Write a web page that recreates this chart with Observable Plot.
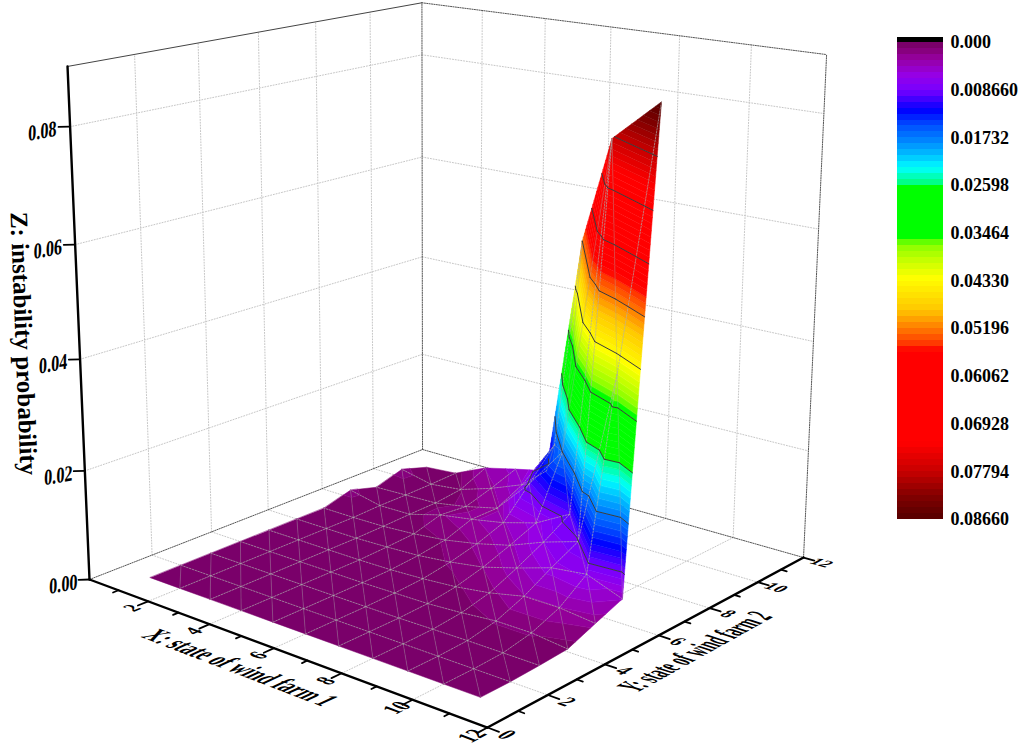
<!DOCTYPE html>
<html>
<head>
<meta charset="utf-8">
<script src="https://cdn.jsdelivr.net/npm/d3@7"></script>
<script src="https://cdn.jsdelivr.net/npm/@observablehq/plot@0.6"></script>
<style>html,body{margin:0;padding:0;background:#fff}svg{display:block}</style>
</head>
<body>
<div id="chart"></div>
<script>
// ---- data ----
const xStates = [1,2,3,4,5,6,7,8,9,10,11];
const yStates = [1,2,3,4,5,6,7,8,9,10,11];
// instability probability, one row per Y state, one column per X state
const zY1  = [0,0,0,0,0,0,0,0,0,0,0];
const zY2  = [0,0,0,0,0,0,0,0,0,0,0];
const zY3  = [0,0,0,0,0,0,0,0.0001,0.0002,0.0002,0.0002];
const zY4  = [0,0,0,0,0,0.0001,0.0002,0.0006,0.0012,0.0012,0.0005];
const zY5  = [0,0,0,0,0.0001,0.0004,0.0009,0.0018,0.0032,0.0032,0.0025];
const zY6  = [0,0,0,0.0002,0.0005,0.0012,0.0022,0.0040,0.0060,0.0068,0.0044];
const zY7  = [0,0,0.0001,0.0005,0.0012,0.0024,0.0040,0.0065,0.0085,0.0400,0.0866];
const zY8  = [0.0015,0.0002,0.0003,0.0020,0.0030,0.0042,0.0060,0.0095,0.0775,null,null];
const zY9  = [0,0.0002,0.0004,0.0015,0.0030,0.0095,0.0173,null,null,null,null];
const zY10 = [0.0016,0.0003,0.0010,0.0030,0.0055,0.0150,null,null,null,null,null];
const zY11 = [0,0.0005,0.0033,0.0048,0.0062,0.0520,null,null,null,null,null];
const zRows = [zY1,zY2,zY3,zY4,zY5,zY6,zY7,zY8,zY9,zY10,zY11];
// triangles of the mesh along its cut edge, as [X,Y] nodes
const seamTriangles = [
  [[6,10],[7,9],[6,11]],
  [[6,11],[7,9],[9,8]],
  [[7,9],[8,8],[9,8]],
  [[10,7],[11,7],[9,8]]
];
const xTicks = [2,4,6,8,10,12];
const yTicks = [0,2,4,6,8,10,12];
const xMinor = [1,3,5,7,9,11];
const yMinor = [1,3,5,7,9,11];
const zTicks = [0,0.02,0.04,0.06,0.08];
const zTickLabels = ["0.00","0.02","0.04","0.06","0.08"];
const axisMax = [12,12,0.09];
const xTitle = "X: state of wind farm 1";
const yTitle = "Y: state of wind farm 2";
const zTitle = "Z: instability probability";
const barValues = [0,0.00866,0.01732,0.02598,0.03464,0.0433,0.05196,0.06062,0.06928,0.07794,0.0866];
const barLabels = ["0.000","0.008660","0.01732","0.02598","0.03464","0.04330","0.05196","0.06062","0.06928","0.07794","0.08660"];
const colorStops = [0,0.001,0.003,0.006,0.0087,0.0123,0.015,0.0178,0.0205,0.0229,0.0256,0.0265,0.0355,0.0365,0.0392,0.0428,0.0486,0.0517,0.0546,0.056,0.0728,0.078,0.0824,0.0866];
const colorRange = ["#730064","#80006f","#9600a0","#9600e6","#7800ff","#0000ff","#004bff","#0082ff","#00beff","#00ffff","#00ff82","#00ff00","#00ff00","#82ff00","#beff00","#ffff00","#ffc800","#ff8200","#ff3c00","#ff0000","#ff0000","#c80000","#820000","#550000"];
const levelCount = 80;
const contourEvery = 0.00866;

// ---- view ----
const W = 1024, H = 753;
const camU = [332,399.3,-26,89], camV = [49.5,-59.5,-517,579], camW = [-0.1355,0.157,-0.06,1];
const fracs = ([X,Y,Z]) => [X/axisMax[0],Y/axisMax[1],Z/axisMax[2],1];
const dot = (a,b) => a[0]*b[0]+a[1]*b[1]+a[2]*b[2]+a[3]*b[3];
const depth = p => dot(camW,fracs(p));
const proj = p => {const f=fracs(p),w=dot(camW,f);return [dot(camU,f)/w,dot(camV,f)/w];};
const bar = {left:897,right:943,top:42,bottom:519,capTop:37,labelX:950};
const barY = z => bar.top+z/barValues[barValues.length-1]*(bar.bottom-bar.top);

// ---- mesh ----
const zAt = (X,Y) => {const r=zRows[Y-1];if(!r)return null;const v=r[X-1];return v===undefined?null:v;};
const node = ([X,Y]) => [X,Y,zAt(X,Y)];
let triangles = [];
for (const Y of yStates.slice(0,-1)) for (const X of xStates.slice(0,-1)) {
  const a=[X,Y],b=[X+1,Y],c=[X,Y+1],d=[X+1,Y+1];
  if ([a,b,c].every(n=>zAt(...n)!==null)) triangles.push([a,b,c]);
  if ([b,d,c].every(n=>zAt(...n)!==null)) triangles.push([b,d,c]);
}
triangles = triangles.concat(seamTriangles);
const tris3 = triangles.map(t=>t.map(node));
tris3.sort((p,q)=>d3.sum(q,depth)-d3.sum(p,depth));

const clip = (poly,level,keepAbove) => {
  const out=[];
  poly.forEach((a,i)=>{
    const b=poly[(i+1)%poly.length];
    const ina=keepAbove?a[2]>=level:a[2]<=level, inb=keepAbove?b[2]>=level:b[2]<=level;
    if(ina) out.push(a);
    if(ina!==inb){const t=(level-a[2])/(b[2]-a[2]);out.push([a[0]+t*(b[0]-a[0]),a[1]+t*(b[1]-a[1]),level]);}
  });
  return out;
};
const zFull = barValues[barValues.length-1];
const step = zFull/levelCount;
const bands=[]; let bandId=0;
for (const tri of tris3) {
  for (let k=0;k<levelCount;k++){
    let poly=clip(tri,k*step,true);
    if(poly.length<3) continue;
    poly=clip(poly,(k+1)*step,false);
    if(poly.length<3) continue;
    bandId++;
    for(const p of poly){const [u,v]=proj(p);bands.push({id:bandId,u,v,c:(k+0.5)*step});}
  }
}
// contour lines
const contourRows=[]; let contourId=0;
for(let m=1;m<=9;m++){
  const level=m*contourEvery+1e-7;
  for(const tri of tris3){
    const pts=[];
    tri.forEach((a,i)=>{const b=tri[(i+1)%3];
      if((a[2]-level)*(b[2]-level)<0){const t=(level-a[2])/(b[2]-a[2]);pts.push([a[0]+t*(b[0]-a[0]),a[1]+t*(b[1]-a[1]),level]);}
    });
    if(pts.length===2){contourId++;for(const p of pts){const [u,v]=proj(p);contourRows.push({id:contourId,u,v});}}
  }
}
// mesh edges (interior only)
const edgeUse=new Map();
for(const t of triangles) t.forEach((a,i)=>{
  const b=t[(i+1)%3];const key=[a,b].map(String).sort().join("|");
  if(!edgeUse.has(key))edgeUse.set(key,{a,b,n:0});edgeUse.get(key).n++;
});
const meshGrid=[],meshDiag=[];let meshId=0;
for(const {a,b,n} of edgeUse.values()){
  if(n<2)continue;
  const straight=a[0]===b[0]||a[1]===b[1];
  const target=straight?meshGrid:meshDiag;meshId++;
  for(const q of [a,b]){const [u,v]=proj(node(q));target.push({id:meshId,u,v});}
}

// ---- box ----
const [xM,yM,zM]=axisMax;
const rowsOf=segs=>segs.flatMap((s,i)=>s.map(p=>{const [u,v]=proj(p);return {id:i,u,v};}));
const evens=xTicks.filter(v=>v<xM), evensY=yTicks.filter(v=>v>0&&v<yM), zs=zTicks.filter(v=>v>0);
const gridRows=rowsOf([
  ...evens.map(X=>[[X,0,0],[X,yM,0]]),
  ...evensY.map(Y=>[[0,Y,0],[xM,Y,0]]),
  ...evensY.map(Y=>[[0,Y,0],[0,Y,zM]]),
  ...evens.map(X=>[[X,yM,0],[X,yM,zM]]),
  ...zs.map(Z=>[[0,0,Z],[0,yM,Z]]),
  ...zs.map(Z=>[[0,yM,Z],[xM,yM,Z]])
]);
const edgeRows=rowsOf([
  [[0,0,0],[0,yM,0]],[[0,yM,0],[xM,yM,0]],[[0,yM,0],[0,yM,zM]],[[xM,yM,0],[xM,yM,zM]],[[0,yM,zM],[xM,yM,zM]]
]);
const topRows=rowsOf([[[0,0,zM],[0,yM,zM]]]);
const axisRows=rowsOf([[[0,0,0],[xM,0,0]],[[xM,0,0],[xM,yM,0]],[[0,0,0],[0,0,zM]]]);
const tickRows=rowsOf([
  ...xTicks.map(X=>[[X,0,0],[X,-0.32,0]]),
  ...xMinor.map(X=>[[X,0,0],[X,-0.17,0]]),
  ...yTicks.map(Y=>[[xM,Y,0],[xM+0.3,Y,0]]),
  ...yMinor.map(Y=>[[xM,Y,0],[xM+0.16,Y,0]]),
  ...zTicks.map(Z=>[[0,0,Z],[-0.18,-0.18,Z]])
]);

// ---- planar text ----
const basis=(p,along,down,ka,kd)=>{
  const o=proj(p),pa=proj(p.map((v,i)=>v+along[i])),pd=proj(p.map((v,i)=>v+down[i]));
  return [(pa[0]-o[0])*ka,(pa[1]-o[1])*ka,(pd[0]-o[0])*kd,(pd[1]-o[1])*kd];
};
const placed=[];
const xTickRows=xTicks.map(X=>{const p=[X,-0.5,0],[u,v]=proj(p);return {u,v,t:String(X),m:basis(p,[0,1,0],[1,0,0],0.034,0.038)};});
const yTickRows=yTicks.map(Y=>{const p=[xM+0.5,Y,0],[u,v]=proj(p);return {u,v,t:String(Y),m:basis(p,[1,0,0],[0,-1,0],0.03,0.04)};});
const zTickRows=zTicks.map((Z,i)=>{const p=[-0.43,-0.43,Z],[u,v]=proj(p);return {u,v:v+4,t:zTickLabels[i],m:[0.9,-0.16,-0.03,1.25]};});
const titleXp=[6.15,-1.2,0],titleYp=[13.1,5.8,0];
const titleXuv=proj(titleXp),titleYuv=proj(titleYp);
const xTitleRow=[{u:titleXuv[0],v:titleXuv[1],t:xTitle,m:basis(titleXp,[1,0,0],[0,-1,0],0.0305,0.047)}];
const yTitleRow=[{u:titleYuv[0],v:titleYuv[1],t:yTitle,m:basis(titleYp,[0,1,0],[1,0,0],0.0303,0.045)}];
[xTickRows,yTickRows,zTickRows,xTitleRow,yTitleRow].forEach(r=>r.forEach(d=>placed.push(d.m)));

// ---- colour bar ----
const barRows=d3.range(levelCount).map(k=>({z1:k*step,z2:(k+1)*step,c:(k+0.5)*step}));
const barLabelRows=barValues.map((z,i)=>({z,t:barLabels[i]}));

const serif="'Liberation Serif','Times New Roman',serif";
const lineMark=(rows,o)=>Plot.line(rows,{x:"u",y:"v",z:"id",...o});
const textBase={x:"u",y:"v",text:"t",fontFamily:serif,fontWeight:"bold",fill:"#000",textAnchor:"middle",lineAnchor:"middle"};

const chart=Plot.plot({
  width:W,height:H,margin:0,
  x:{domain:[0,W],range:[0,W],axis:null},
  y:{domain:[0,H],range:[0,H],axis:null},
  color:{type:"linear",domain:colorStops,range:colorRange,interpolate:"rgb"},
  style:{background:"#fff"},
  marks:[
    lineMark(gridRows,{stroke:"#c6c6c6",strokeWidth:1,strokeDasharray:"1,1.8"}),
    lineMark(edgeRows,{stroke:"#555",strokeWidth:1,strokeDasharray:"1.2,1.2"}),
    lineMark(topRows,{stroke:"#444",strokeWidth:1}),
    lineMark(bands,{fill:"c",stroke:"c",strokeWidth:0.5,curve:"linear-closed"}),
    lineMark(meshDiag,{stroke:"#a0a0a0",strokeOpacity:0.45,strokeWidth:0.8}),
    lineMark(meshGrid,{stroke:"#aaaaaa",strokeOpacity:0.75,strokeWidth:0.9,strokeDasharray:"1.5,1.5"}),
    lineMark(contourRows,{stroke:"#3c3c3c",strokeWidth:1}),
    lineMark(axisRows,{stroke:"#000",strokeWidth:2.4}),
    lineMark(tickRows,{stroke:"#000",strokeWidth:1.8}),
    Plot.text(xTickRows,{...textBase,fontSize:16}),
    Plot.text(yTickRows,{...textBase,fontSize:16}),
    Plot.text(zTickRows,{...textBase,fontSize:18}),
    Plot.text(xTitleRow,{...textBase,fontSize:18}),
    Plot.text(yTitleRow,{...textBase,fontSize:18}),
    Plot.text([zTitle],{x:()=>23,y:()=>343,text:d=>d,rotate:87.8,fontFamily:serif,fontWeight:"bold",fontSize:25,fill:"#000",textAnchor:"middle",lineAnchor:"middle"}),
    Plot.rect(barRows,{x1:()=>bar.left,x2:()=>bar.right,y1:d=>barY(d.z1),y2:d=>barY(d.z2),fill:"c",shapeRendering:"crispEdges"}),
    Plot.rect([0],{x1:()=>bar.left,x2:()=>bar.right,y1:()=>bar.capTop,y2:()=>bar.top,fill:"#000",shapeRendering:"crispEdges"}),
    Plot.text(barLabelRows,{x:()=>bar.labelX,y:d=>barY(d.z),text:"t",fontFamily:serif,fontWeight:"bold",fontSize:18,fill:"#000",textAnchor:"start",lineAnchor:"middle"})
  ]
});
// lay the tick labels and axis titles into the plane they stand in
const texts=[...chart.querySelectorAll("text")];
placed.forEach((m,i)=>{
  const t=texts[i];
  t.setAttribute("transform",`${t.getAttribute("transform")||""} matrix(${m.join(" ")} 0 0)`);
});
document.getElementById("chart").appendChild(chart);
</script>
</body>
</html>
